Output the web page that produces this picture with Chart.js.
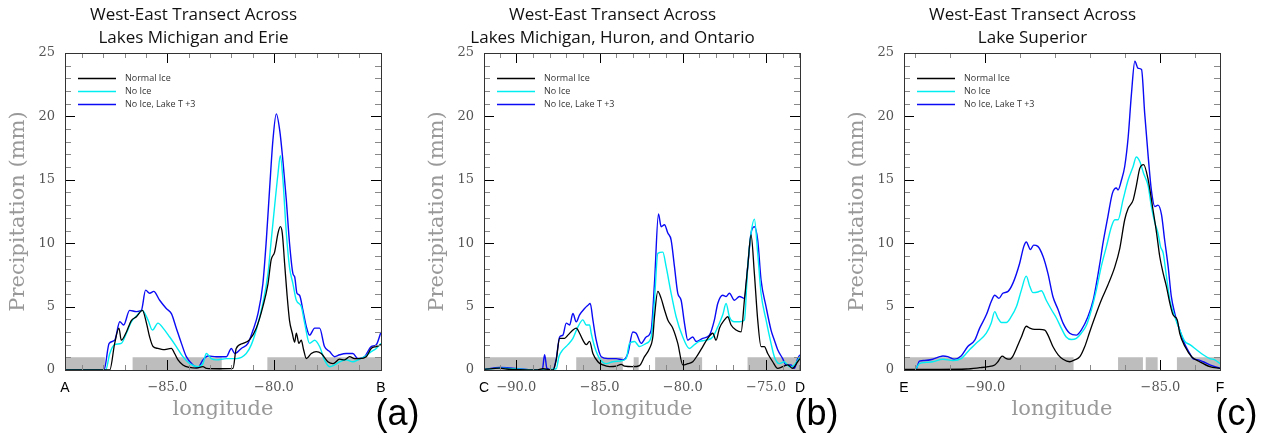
<!DOCTYPE html>
<html>
<head>
<meta charset="utf-8">
<script src="https://cdn.jsdelivr.net/npm/chart.js@4.4.1/dist/chart.umd.min.js"></script>
<style>
  body { margin: 0; background: #fff; width: 1275px; height: 440px; overflow: hidden; position: relative; }
  .panel { position: absolute; top: 0; width: 420px; height: 440px; }
</style>
</head>
<body>
<div class="panel" style="left:0px"><canvas id="chartA" width="420" height="440"></canvas></div>
<div class="panel" style="left:419px"><canvas id="chartB" width="420" height="440"></canvas></div>
<div class="panel" style="left:839px"><canvas id="chartC" width="420" height="440"></canvas></div>
<script>
// series are [longitude, precipitation mm] pairs
const seriesLabels = ['Normal Ice', 'No Ice', 'No Ice, Lake T +3'];
const seriesColors = ['#000000', '#00eef2', '#0a0af5'];

// (a) Lakes Michigan and Erie
const aTitle = ['West-East Transect Across', 'Lakes Michigan and Erie'];
const aRange = [-89.8, -74.98];
const aTicks = [-85, -80];
const aEnds = ['A', 'B'];
const aNormal = [[-89.8,0],[-87.7,0],[-87.47,2.1],[-87.27,3.3],[-87.16,2.35],[-86.92,3.0],[-86.69,3.9],[-86.45,4.2],[-86.17,4.7],[-85.98,3.7],[-85.83,2.6],[-85.67,1.85],[-85.44,1.7],[-85.2,1.6],[-84.81,1.7],[-84.66,1.3],[-84.5,0.8],[-84.27,0.4],[-83.95,0.2],[-83.64,0.15],[-83.33,0.26],[-83.17,0.13],[-82.55,0.1],[-81.92,0.13],[-81.77,1.7],[-81.45,2.1],[-81.14,2.4],[-80.83,3.3],[-80.52,5.0],[-80.28,6.8],[-80.13,8.7],[-79.97,9.3],[-79.81,10.8],[-79.7,11.3],[-79.61,10.8],[-79.5,8.4],[-79.39,6.0],[-79.27,3.9],[-79.14,2.9],[-79.03,2.2],[-78.95,2.9],[-78.83,2.1],[-78.72,2.35],[-78.61,1.6],[-78.48,0.9],[-78.25,1.3],[-78.02,1.45],[-77.78,1.3],[-77.47,0.65],[-77.23,0.5],[-76.92,0.85],[-76.69,0.8],[-76.45,1.05],[-76.22,0.9],[-75.98,0.9],[-75.67,1.05],[-75.44,1.7],[-75.2,1.85],[-74.98,2.0]];
const aNoIce = [[-89.8,0],[-87.89,0],[-87.7,1.3],[-87.47,2.0],[-87.16,2.1],[-86.92,2.9],[-86.69,3.8],[-86.45,4.25],[-86.17,4.7],[-85.91,3.95],[-85.7,3.15],[-85.44,3.7],[-85.2,3.3],[-84.89,2.6],[-84.58,1.85],[-84.27,1.05],[-83.95,0.5],[-83.56,0.26],[-83.33,0.5],[-83.17,1.3],[-82.94,0.9],[-82.7,0.8],[-82.23,0.9],[-81.77,0.9],[-81.3,1.3],[-81.06,2.0],[-80.83,3.15],[-80.52,5.25],[-80.28,7.6],[-80.13,10.2],[-79.97,12.9],[-79.81,15.5],[-79.7,16.9],[-79.58,15.0],[-79.42,10.8],[-79.27,8.1],[-79.11,6.8],[-78.95,5.5],[-78.72,5.0],[-78.56,3.7],[-78.33,2.1],[-78.09,2.35],[-77.86,1.85],[-77.63,0.8],[-77.39,0.26],[-77.16,0.4],[-76.92,0.65],[-76.61,0.8],[-76.3,0.65],[-76.06,0.8],[-75.75,1.05],[-75.44,1.45],[-75.2,1.7],[-74.98,2.1]];
const aPlus3 = [[-89.8,0],[-87.97,0],[-87.73,2.1],[-87.47,2.35],[-87.23,3.8],[-87.05,3.55],[-86.77,4.7],[-86.45,4.6],[-86.22,4.7],[-86.02,6.3],[-85.83,6.05],[-85.64,6.2],[-85.36,5.5],[-85.05,4.85],[-84.81,4.45],[-84.58,3.3],[-84.34,2.1],[-84.11,1.05],[-83.8,0.4],[-83.56,0.2],[-83.33,0.8],[-83.09,1.1],[-82.7,1.05],[-82.23,1.05],[-82.0,1.7],[-81.84,1.3],[-81.53,1.7],[-81.22,2.1],[-80.98,3.15],[-80.75,4.45],[-80.52,6.8],[-80.36,10.2],[-80.2,14.4],[-80.05,18.1],[-79.89,20.2],[-79.73,18.9],[-79.58,16.5],[-79.42,13.4],[-79.27,10.0],[-79.11,7.6],[-79.03,7.35],[-78.92,6.05],[-78.8,5.9],[-78.64,4.7],[-78.48,3.4],[-78.33,2.75],[-78.09,3.3],[-77.86,3.3],[-77.63,1.85],[-77.39,1.45],[-77.16,1.05],[-76.92,1.2],[-76.61,1.3],[-76.3,1.3],[-76.06,0.9],[-75.75,1.05],[-75.44,1.85],[-75.2,2.0],[-74.98,3.0]];
const aLake = [[-89.8,-87.93],[-86.63,-82.45],[-80.31,-74.98]];

// (b) Lakes Michigan, Huron, and Ontario
const bTitle = ['West-East Transect Across', 'Lakes Michigan, Huron, and Ontario'];
const bRange = [-91.94, -72.96];
const bTicks = [-90, -85, -80, -75];
const bEnds = ['C', 'D'];
const bNormal = [[-91.94,0.05],[-91.0,0.15],[-90.6,0.08],[-88.8,0],[-88.4,0.1],[-87.8,0],[-87.6,0.8],[-87.4,2.5],[-87.1,2.5],[-86.9,2.75],[-86.6,3.15],[-86.4,3.3],[-86.2,2.9],[-86.0,2.35],[-85.8,2.0],[-85.6,2.25],[-85.4,1.3],[-85.1,0.65],[-84.8,0.4],[-84.4,0.26],[-84.0,0.3],[-83.7,0.45],[-83.5,0.3],[-83.0,0.26],[-82.6,0.35],[-82.3,1.05],[-82.0,1.7],[-81.8,2.6],[-81.7,4.2],[-81.5,6.2],[-81.3,5.65],[-81.1,4.75],[-80.9,3.95],[-80.6,3.3],[-80.3,2.1],[-80.0,0.4],[-79.7,0.5],[-79.4,0.65],[-79.1,1.2],[-78.8,1.85],[-78.5,2.5],[-78.2,2.9],[-78.0,2.35],[-77.8,3.3],[-77.5,3.95],[-77.3,4.2],[-77.1,3.55],[-76.8,3.15],[-76.5,3.0],[-76.3,5.5],[-76.1,8.15],[-75.9,10.65],[-75.7,7.6],[-75.5,3.95],[-75.3,1.85],[-75.1,1.85],[-74.9,1.3],[-74.6,0.65],[-74.3,0.13],[-74.0,0.26],[-73.7,0.4],[-73.4,0.13],[-73.1,0.65],[-72.96,0.9]];
const bNoIce = [[-91.94,0.05],[-91.0,0.15],[-88.8,0],[-87.6,0.1],[-87.44,1.05],[-87.2,1.6],[-86.9,2.0],[-86.6,2.5],[-86.3,3.4],[-86.0,3.95],[-85.8,3.55],[-85.6,3.55],[-85.5,2.9],[-85.3,1.85],[-85.0,0.9],[-84.6,0.5],[-84.2,0.65],[-83.8,0.7],[-83.4,0.9],[-83.2,2.1],[-82.9,2.25],[-82.6,1.85],[-82.2,2.1],[-81.9,2.6],[-81.7,5.5],[-81.5,9.2],[-81.2,9.3],[-81.0,8.15],[-80.7,6.05],[-80.4,4.2],[-80.0,2.6],[-79.6,1.7],[-79.3,2.0],[-79.0,2.25],[-78.6,2.35],[-78.2,2.6],[-77.9,3.4],[-77.6,4.35],[-77.4,5.25],[-77.2,4.2],[-76.9,3.8],[-76.6,3.8],[-76.3,3.95],[-76.1,8.15],[-75.9,10.8],[-75.7,11.9],[-75.5,9.2],[-75.3,6.05],[-75.0,3.95],[-74.7,2.1],[-74.5,1.05],[-74.2,0.5],[-73.9,0.65],[-73.6,0.26],[-73.3,0.4],[-72.96,1.05]];
const bPlus3 = [[-91.94,0.05],[-91.0,0.2],[-88.8,0],[-88.44,0],[-88.3,1.2],[-88.16,0.13],[-87.8,0],[-87.6,0.9],[-87.4,2.6],[-87.2,2.75],[-87.0,3.7],[-86.8,3.55],[-86.6,4.45],[-86.4,3.8],[-86.2,4.35],[-85.9,4.85],[-85.7,5.1],[-85.56,5.25],[-85.4,3.95],[-85.2,2.35],[-84.9,1.05],[-84.5,0.9],[-84.0,0.9],[-83.6,0.8],[-83.3,1.3],[-83.0,3.0],[-82.8,2.9],[-82.5,2.1],[-82.2,2.6],[-81.9,3.15],[-81.7,6.85],[-81.46,12.3],[-81.3,11.3],[-81.1,11.45],[-80.9,10.8],[-80.7,10.25],[-80.5,8.15],[-80.3,6.05],[-80.1,5.5],[-79.9,3.7],[-79.7,2.35],[-79.4,2.6],[-79.2,2.25],[-78.8,2.5],[-78.4,2.75],[-78.1,3.95],[-77.9,5.25],[-77.6,5.9],[-77.4,5.8],[-77.2,6.05],[-76.9,5.5],[-76.6,5.8],[-76.3,5.65],[-76.1,8.15],[-75.9,10.8],[-75.7,11.3],[-75.5,10.25],[-75.3,7.1],[-75.0,5.0],[-74.7,3.15],[-74.5,2.35],[-74.3,1.6],[-74.0,0.9],[-73.8,0.4],[-73.5,0.4],[-73.3,0.13],[-73.1,0.9],[-72.96,1.2]];
const bLake = [[-91.94,-87.64],[-86.4,-83.6],[-82.95,-82.65],[-81.66,-78.84],[-76.11,-72.96]];

// (c) Lake Superior
const cTitle = ['West-East Transect Across', 'Lake Superior'];
const cRange = [-92.32, -83.3];
const cTicks = [-90, -85];
const cEnds = ['E', 'F'];
const cNormal = [[-92.32,0.05],[-91.97,0.05],[-91.3,0.05],[-90.54,0.08],[-90.16,0.18],[-89.92,0.26],[-89.73,0.4],[-89.64,0.65],[-89.52,1.1],[-89.4,0.9],[-89.3,0.85],[-89.21,1.1],[-89.11,1.7],[-88.97,2.6],[-88.83,3.45],[-88.73,3.3],[-88.59,3.2],[-88.45,3.2],[-88.3,3.15],[-88.21,2.75],[-88.07,1.85],[-87.92,1.2],[-87.78,0.85],[-87.59,0.65],[-87.45,0.8],[-87.3,1.05],[-87.16,1.85],[-87.02,3.0],[-86.88,4.1],[-86.69,5.5],[-86.5,6.7],[-86.3,8.15],[-86.16,9.6],[-86.02,11.85],[-85.92,12.75],[-85.78,13.4],[-85.69,14.5],[-85.59,15.9],[-85.48,16.2],[-85.35,15.0],[-85.21,12.6],[-85.11,10.8],[-85.02,8.95],[-84.92,7.6],[-84.83,6.6],[-84.73,5.25],[-84.64,4.35],[-84.52,3.95],[-84.45,2.9],[-84.3,1.85],[-84.11,1.05],[-83.88,0.65],[-83.59,0.26],[-83.3,0.13]];
const cNoIce = [[-92.32,0],[-92.02,0],[-91.88,0.5],[-91.69,0.6],[-91.5,0.65],[-91.21,0.85],[-90.92,0.75],[-90.69,0.9],[-90.45,1.6],[-90.26,2.1],[-89.97,2.9],[-89.83,3.7],[-89.73,4.6],[-89.64,4.1],[-89.54,3.75],[-89.4,3.75],[-89.26,4.2],[-89.11,5.0],[-88.97,6.3],[-88.83,7.4],[-88.73,6.6],[-88.64,6.1],[-88.5,6.15],[-88.4,6.25],[-88.26,5.5],[-88.11,4.75],[-87.97,4.1],[-87.83,3.3],[-87.69,2.6],[-87.54,2.4],[-87.4,2.5],[-87.26,2.9],[-87.11,3.55],[-86.97,4.75],[-86.83,6.3],[-86.69,8.15],[-86.54,9.75],[-86.4,11.3],[-86.3,11.85],[-86.21,11.85],[-86.07,13.4],[-85.92,15.0],[-85.78,16.05],[-85.69,16.8],[-85.59,16.45],[-85.48,15.5],[-85.35,14.5],[-85.26,12.9],[-85.16,11.6],[-85.07,10.8],[-85.0,9.75],[-84.92,9.2],[-84.83,7.4],[-84.73,5.5],[-84.59,4.2],[-84.45,3.15],[-84.3,2.25],[-84.16,2.0],[-83.97,1.6],[-83.78,1.2],[-83.59,0.9],[-83.45,0.8],[-83.3,0.5]];
const cPlus3 = [[-92.32,0],[-91.99,0],[-91.88,0.7],[-91.73,0.75],[-91.5,0.85],[-91.3,1.05],[-91.21,1.1],[-91.07,1.05],[-90.88,0.85],[-90.69,1.1],[-90.5,1.85],[-90.3,2.35],[-90.16,3.3],[-89.97,4.35],[-89.83,5.4],[-89.73,5.9],[-89.61,5.65],[-89.5,6.05],[-89.35,6.2],[-89.21,6.85],[-89.02,8.4],[-88.9,9.75],[-88.83,10.1],[-88.71,9.5],[-88.62,9.85],[-88.5,9.75],[-88.35,8.95],[-88.21,7.6],[-88.07,5.8],[-87.92,4.75],[-87.78,3.7],[-87.59,2.9],[-87.4,2.75],[-87.26,3.15],[-87.07,4.2],[-86.92,5.5],[-86.73,8.4],[-86.64,10.0],[-86.5,12.1],[-86.37,13.95],[-86.26,14.35],[-86.21,14.2],[-86.11,15.0],[-86.02,16.05],[-85.92,18.4],[-85.83,21.7],[-85.73,24.35],[-85.64,23.8],[-85.54,23.7],[-85.45,20.25],[-85.35,16.85],[-85.26,14.2],[-85.16,12.9],[-85.07,13.0],[-84.97,12.25],[-84.88,10.25],[-84.78,8.15],[-84.69,5.8],[-84.59,4.45],[-84.45,3.15],[-84.3,2.0],[-84.16,1.3],[-84.07,0.9],[-83.92,0.8],[-83.78,0.65],[-83.59,0.4],[-83.3,0.13]];
const cLake = [[-92.32,-87.48],[-86.21,-85.5],[-85.42,-85.08],[-84.53,-83.3]];

Chart.defaults.font.family = 'DejaVu Serif';

// inward NCL-style ticks, box frame, legend inside the plot and the panel letter
const ncLFrame = {
  id: 'nclFrame',
  afterDatasetsDraw(chart, args, opts) {
    const { ctx, chartArea: ca, scales: { x, y } } = chart;
    ctx.save();
    ctx.lineWidth = 1;
    for (let v = Math.ceil(x.min); v <= x.max; v++) {
      const px = Math.round(x.getPixelForValue(v)) + 0.5;
      const major = v % 5 === 0;
      const len = major ? 10 : 5;
      ctx.strokeStyle = major ? '#000' : '#888';
      ctx.beginPath();
      ctx.moveTo(px, ca.bottom); ctx.lineTo(px, ca.bottom - len);
      ctx.moveTo(px, ca.top); ctx.lineTo(px, ca.top + len);
      ctx.stroke();
    }
    for (let v = 1; v < y.max; v++) {
      const py = Math.round(y.getPixelForValue(v)) + 0.5;
      const major = v % 5 === 0;
      const len = major ? 10 : 6;
      ctx.strokeStyle = major ? '#000' : '#888';
      ctx.beginPath();
      ctx.moveTo(ca.left, py); ctx.lineTo(ca.left + len, py);
      ctx.moveTo(ca.right, py); ctx.lineTo(ca.right - len, py);
      ctx.stroke();
    }
    ctx.strokeStyle = '#333';
    ctx.strokeRect(Math.round(ca.left) + 0.5, Math.round(ca.top) + 0.5,
      Math.round(ca.right - ca.left), Math.round(ca.bottom - ca.top));

    // legend
    ctx.font = '9px "Open Sans"';
    ctx.textBaseline = 'middle';
    ctx.fillStyle = '#333';
    chart.data.datasets.filter(d => !d.fill).forEach((d, i) => {
      const ly = Math.round(ca.top + 24.5 + i * 13.3) + 0.5;
      ctx.strokeStyle = d.borderColor;
      ctx.lineWidth = 1.6;
      ctx.beginPath();
      ctx.moveTo(ca.left + 13, ly); ctx.lineTo(ca.left + 51, ly);
      ctx.stroke();
      ctx.fillText(d.label, ca.left + 60, ly);
    });

    // panel letter
    ctx.font = '36px "Liberation Sans"';
    ctx.fillStyle = '#000';
    ctx.textAlign = 'center';
    ctx.textBaseline = 'alphabetic';
    ctx.fillText(opts.letter, ca.right + 16.5, 425);
    ctx.restore();
  }
};

function lakeBand(spans) {
  const pts = [];
  spans.forEach(([s, e]) => {
    pts.push({ x: s, y: 0 }, { x: s, y: 1 }, { x: e, y: 1 }, { x: e, y: 0 });
  });
  return pts;
}

function makeChart(id, title, range, ticks, ends, series, lake, letter) {
  const datasets = series.map((s, i) => ({
    label: seriesLabels[i],
    data: s.map(([lon, mm]) => ({ x: lon, y: mm })),
    borderColor: seriesColors[i],
    borderWidth: i === 0 ? 1.3 : 1.4,
    pointRadius: 0,
    tension: 0.3,
    cubicInterpolationMode: 'monotone',
    fill: false,
    order: 0
  }));
  datasets.push({
    label: 'lake',
    data: lakeBand(lake),
    borderWidth: 0,
    pointRadius: 0,
    backgroundColor: '#bdbdbd',
    fill: 'origin',
    tension: 0,
    order: 5
  });

  return new Chart(document.getElementById(id), {
    type: 'line',
    data: { datasets: datasets },
    options: {
      responsive: false,
      animation: false,
      layout: { padding: { left: 6, right: 39, top: 0, bottom: 18 } },
      plugins: {
        legend: { display: false },
        tooltip: { enabled: false },
        title: {
          display: true,
          text: title,
          color: '#111',
          font: { family: 'Open Sans', size: 17, weight: 'normal', lineHeight: 1.353 },
          padding: { top: 3.5, bottom: 3.5 }
        },
        nclFrame: { letter: letter }
      },
      scales: {
        x: {
          type: 'linear',
          min: range[0],
          max: range[1],
          afterBuildTicks: (s) => {
            s.ticks = [range[0], ...ticks, range[1]].map(v => ({ value: v }));
          },
          afterFit: (s) => { s.height = 52; },
          grid: { display: false, drawTicks: false },
          border: { display: false },
          ticks: {
            autoSkip: false,
            maxRotation: 0,
            padding: 10,
            color: (c) => (c.tick && (c.tick.value === range[0] || c.tick.value === range[1])) ? '#000' : '#555',
            font: (c) => (c.tick && (c.tick.value === range[0] || c.tick.value === range[1]))
              ? { family: 'Liberation Sans', size: 14 }
              : { family: 'DejaVu Serif', size: 13 },
            callback: (v) => v === range[0] ? ends[0] : v === range[1] ? ends[1] : '\u2212' + Math.abs(v).toFixed(1)
          },
          title: {
            display: true,
            text: 'longitude',
            color: '#999',
            font: { family: 'DejaVu Serif', size: 21 },
            padding: 0
          }
        },
        y: {
          min: 0,
          max: 25,
          afterFit: (s) => { s.width = 59; },
          grid: { display: false, drawTicks: false },
          border: { display: false },
          ticks: {
            stepSize: 5,
            padding: 10,
            color: '#555',
            font: { family: 'DejaVu Serif', size: 13 }
          },
          title: {
            display: true,
            text: 'Precipitation (mm)',
            color: '#999',
            font: { family: 'DejaVu Serif', size: 21 },
            padding: 0
          }
        }
      }
    },
    plugins: [ncLFrame]
  });
}

makeChart('chartA', aTitle, aRange, aTicks, aEnds, [aNormal, aNoIce, aPlus3], aLake, '(a)');
makeChart('chartB', bTitle, bRange, bTicks, bEnds, [bNormal, bNoIce, bPlus3], bLake, '(b)');
makeChart('chartC', cTitle, cRange, cTicks, cEnds, [cNormal, cNoIce, cPlus3], cLake, '(c)');
</script>
</body>
</html>
